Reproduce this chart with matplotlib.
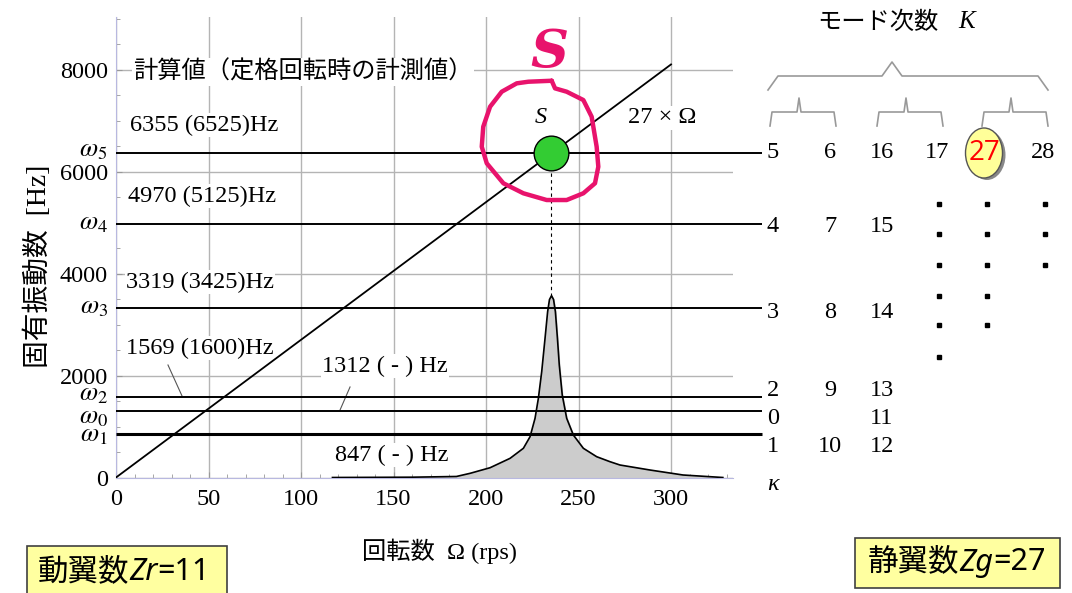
import matplotlib.pyplot as plt
from matplotlib.patches import Ellipse, Rectangle
from matplotlib.offsetbox import TextArea, HPacker, AnnotationBbox
from matplotlib.ticker import MultipleLocator

SERIF = 'Liberation Serif'
JP = 'Noto Sans CJK JP'
plt.rcParams['font.family'] = [SERIF, JP]

# 翼数
zr = 11
zg = 27

# 固有振動数 ω (計算値 と 定格回転時の計測値)
omega_names = ['5', '4', '3', '2', '0', '1']
omega_calc = [6355, 4970, 3319, 1569, 1312, 847]
omega_meas = ['6525', '5125', '3425', '1600', '-', '-']

# 27×Ω の励振線
rps_line = [0, 300]

# 共振応答の曲線
peak_rps = [117, 160, 184, 191.4, 202.2, 213.0, 220.2, 223.8, 226.5, 228.3, 230.1, 231.9, 233.3,
            234.3, 235.4, 236.5, 237.5, 238.6, 239.6, 241.2, 243.6, 247.2, 252.6, 259.8, 267.0,
            272.4, 288.6, 306.5, 328]
peak_hz = [0, 6, 20, 82, 192, 376, 573, 800, 1161, 1553, 2075, 2729, 3251,
           3490, 3565, 3490, 3251, 2729, 2206, 1618, 1161, 833, 573, 408, 310,
           245, 147, 49, 0]

# 手書きの丸 (S 点の強調)
loop_rps = [235.5, 237.3, 243.6, 252.6, 257.1, 259.8, 260.7, 258.9, 252.6, 243.6, 232.8,
            220.2, 209.4, 200.4, 197.7, 198.5, 202.2, 208.5, 216.6, 222.9, 235.5]
loop_hz = [7780, 7631, 7565, 7402, 7075, 6486, 6094, 5769, 5573, 5441, 5441,
           5573, 5769, 6161, 6486, 6878, 7271, 7565, 7729, 7761, 7780]

# モード次数 K の表
mode_rows = [['5', '6', '16', '17', '27', '28'],
             ['4', '7', '15'],
             ['3', '8', '14'],
             ['2', '9', '13'],
             ['0', '', '11'],
             ['1', '10', '12']]
dot_counts = [6, 5, 3]

PINK = '#e8136c'
GRID = '#b4b4b4'

fig = plt.figure(figsize=(10.72, 5.93), dpi=100)
ax = fig.add_axes([116 / 1072, 1 - 477.5 / 593, 617 / 1072, 460.5 / 593])
ax.set_xlim(0, 333.5)
ax.set_ylim(0, 9030)

ax.xaxis.set_major_locator(MultipleLocator(50))
ax.xaxis.set_minor_locator(MultipleLocator(10))
ax.yaxis.set_major_locator(MultipleLocator(2000))
ax.yaxis.set_minor_locator(MultipleLocator(500))
ax.grid(which='major', color=GRID, lw=1)
ax.set_axisbelow(True)
ax.tick_params(which='both', direction='in', color='#999999', labelsize=17.5)
ax.tick_params(which='major', length=4)
ax.tick_params(which='minor', length=3)
ax.tick_params(axis='x', pad=8)
ax.tick_params(axis='y', pad=6)
for s in ['top', 'right']:
    ax.spines[s].set_visible(False)
for s in ['left', 'bottom']:
    ax.spines[s].set_color('#b8b8e0')

# 固有振動数の水平線 (ω ラベルは軸の左側)
label_shift = {'5': 2, '2': 2, '0': -5, '1': -1}
for name, w in zip(omega_names, omega_calc):
    ax.hlines(w, 0, 349, color='black', lw=2.2 if name == '1' else 1.4, clip_on=False, zorder=3)
    ax.annotate(r'$\omega_{%s}$' % name, xy=(0, w), xytext=(-6, label_shift.get(name, 0)),
                textcoords='offset points', ha='right', va='center', fontsize=19,
                math_fontfamily='stix', annotation_clip=False)

# 励振線 27×Ω
ax.plot(rps_line, [zg * r for r in rps_line], color='black', lw=1.3, zorder=3)

# 共振応答
ax.fill_between(peak_rps, peak_hz, color='#cccccc', zorder=2)
ax.plot(peak_rps, peak_hz, color='black', lw=1.2, zorder=3, solid_joinstyle='round')

# 交点 S
s_rps = omega_calc[0] / zg
ax.plot([s_rps, s_rps], [omega_calc[0], max(peak_hz)], color='black', lw=0.8, ls=(0, (3, 3)), zorder=3)
ax.plot(s_rps, omega_calc[0], 'o', ms=25, mfc='#33cc33', mec='black', mew=1, zorder=5)
ax.text(229.7, 7050, 'S', fontsize=17.5, style='italic', ha='center', va='center')
ax.text(276.8, 7050, '27 × Ω', fontsize=17.5, ha='left', va='center',
        bbox=dict(fc='white', ec='none', pad=1))

ax.plot(loop_rps, loop_hz, color=PINK, lw=3.2, solid_joinstyle='round', solid_capstyle='round',
        clip_on=False, zorder=6)
ax.text(234.1, 8343, 'S', fontsize=38, style='italic', color=PINK, ha='center', va='center',
        fontweight='bold', family='DejaVu Serif', zorder=6)

# 振動数ラベル
wbox = dict(fc='white', ec='none', pad=1)
ax.text(9.2, 7951, '計算値（定格回転時の計測値）', family=JP, fontsize=17.5, va='center', bbox=wbox)
hz_pos = [(7.6, 6912), (6.5, 5520), (5.4, 3833), (5.4, 2539), (111.4, 2186), (118.4, 441)]
for (x, y), w, m in zip(hz_pos, omega_calc, omega_meas):
    if m == '-':
        label = '%d ( - ) Hz' % w
    else:
        label = '%d (%s)Hz' % (w, m)
    ax.text(x, y, label, fontsize=17.5, va='center', ha='left', bbox=wbox, zorder=2.5)
ax.plot([28.1, 35.7], [2206, 1598], color='#555555', lw=0.8)
ax.plot([126.5, 121.1], [1775, 1324], color='#555555', lw=0.8)

fig.text(440 / 1072, 1 - 551 / 593, '回転数  Ω (rps)', fontsize=17.5, ha='center', va='center')
fig.text(38 / 1072, 1 - 266 / 593, '固有振動数  [Hz]', fontsize=20, rotation=90, ha='center', va='center')

# 右側: モード次数の表
ov = fig.add_axes([0, 0, 1, 1], zorder=5)
ov.set_xlim(0, 1072)
ov.set_ylim(593, 0)
ov.axis('off')

ov.text(878, 22, 'モード次数', family=JP, fontsize=17.5, ha='center', va='center')
ov.text(958, 22, 'K', fontsize=18, style='italic', ha='left', va='center')


def bracket(x0, x1, xm, ytop, ypeak, ybot, d):
    xs = [x0, x0 + d, xm - d, xm, xm + d, x1 - d, x1]
    ys = [ybot, ytop, ytop, ypeak, ytop, ytop, ybot]
    ov.plot(xs, ys, color='#999999', lw=1.2)


bracket(768, 1048, 892, 76, 62, 90, 10)
for x0, x1, xm in [(770, 836, 799), (877, 943, 906), (982, 1048, 1011)]:
    bracket(x0, x1, xm, 112, 98, 126, 2)

col_x = [773, 830, 882, 937, 984, 1043]
row_y = [153, 227, 312, 390, 418, 447]
for r, row in enumerate(mode_rows):
    for c, k in enumerate(row):
        if not k:
            continue
        if k == str(zg):
            ov.add_patch(Ellipse((col_x[c] + 3, row_y[r] + 2), 37, 50, fc='#888888', ec='none'))
            ov.add_patch(Ellipse((col_x[c], row_y[r]), 37, 50, fc='#ffff99', ec='#555555', lw=1))
            ov.text(col_x[c], row_y[r], k, family='Open Sans', fontsize=20, color='red',
                    ha='center', va='center')
        else:
            ov.text(col_x[c], row_y[r], k, fontsize=17.5, ha='center', va='center')
ov.text(773, 484, 'κ', fontsize=17.5, style='italic', ha='center', va='center')

dot_y = [204, 234, 265, 296, 325, 357]
for x, n in zip([939, 987, 1045], dot_counts):
    ov.plot([x] * n, dot_y[:n], 's', ms=3, color='black')


# 翼数の囲み
def blade_box(rect, center, head, var, num):
    ov.add_patch(Rectangle(rect[:2], rect[2], rect[3], fc='#ffffa0', ec='#404040', lw=1.2, clip_on=False))
    pack = HPacker(children=[TextArea(head, textprops=dict(family=JP, size=22)),
                             TextArea(var, textprops=dict(family='Noto Sans', style='italic', size=22)),
                             TextArea('=%d' % num, textprops=dict(family='Noto Sans', size=22))],
                   sep=0, pad=0, align='baseline')
    ov.add_artist(AnnotationBbox(pack, center, xycoords='data', frameon=False, box_alignment=(0.5, 0.5)))


blade_box((27, 546, 200, 60), (124, 572), '動翼数', 'Zr', zr)
blade_box((855, 538, 205, 50), (957, 562), '静翼数', 'Zg', zg)

fig.savefig('out.png', dpi=100)
